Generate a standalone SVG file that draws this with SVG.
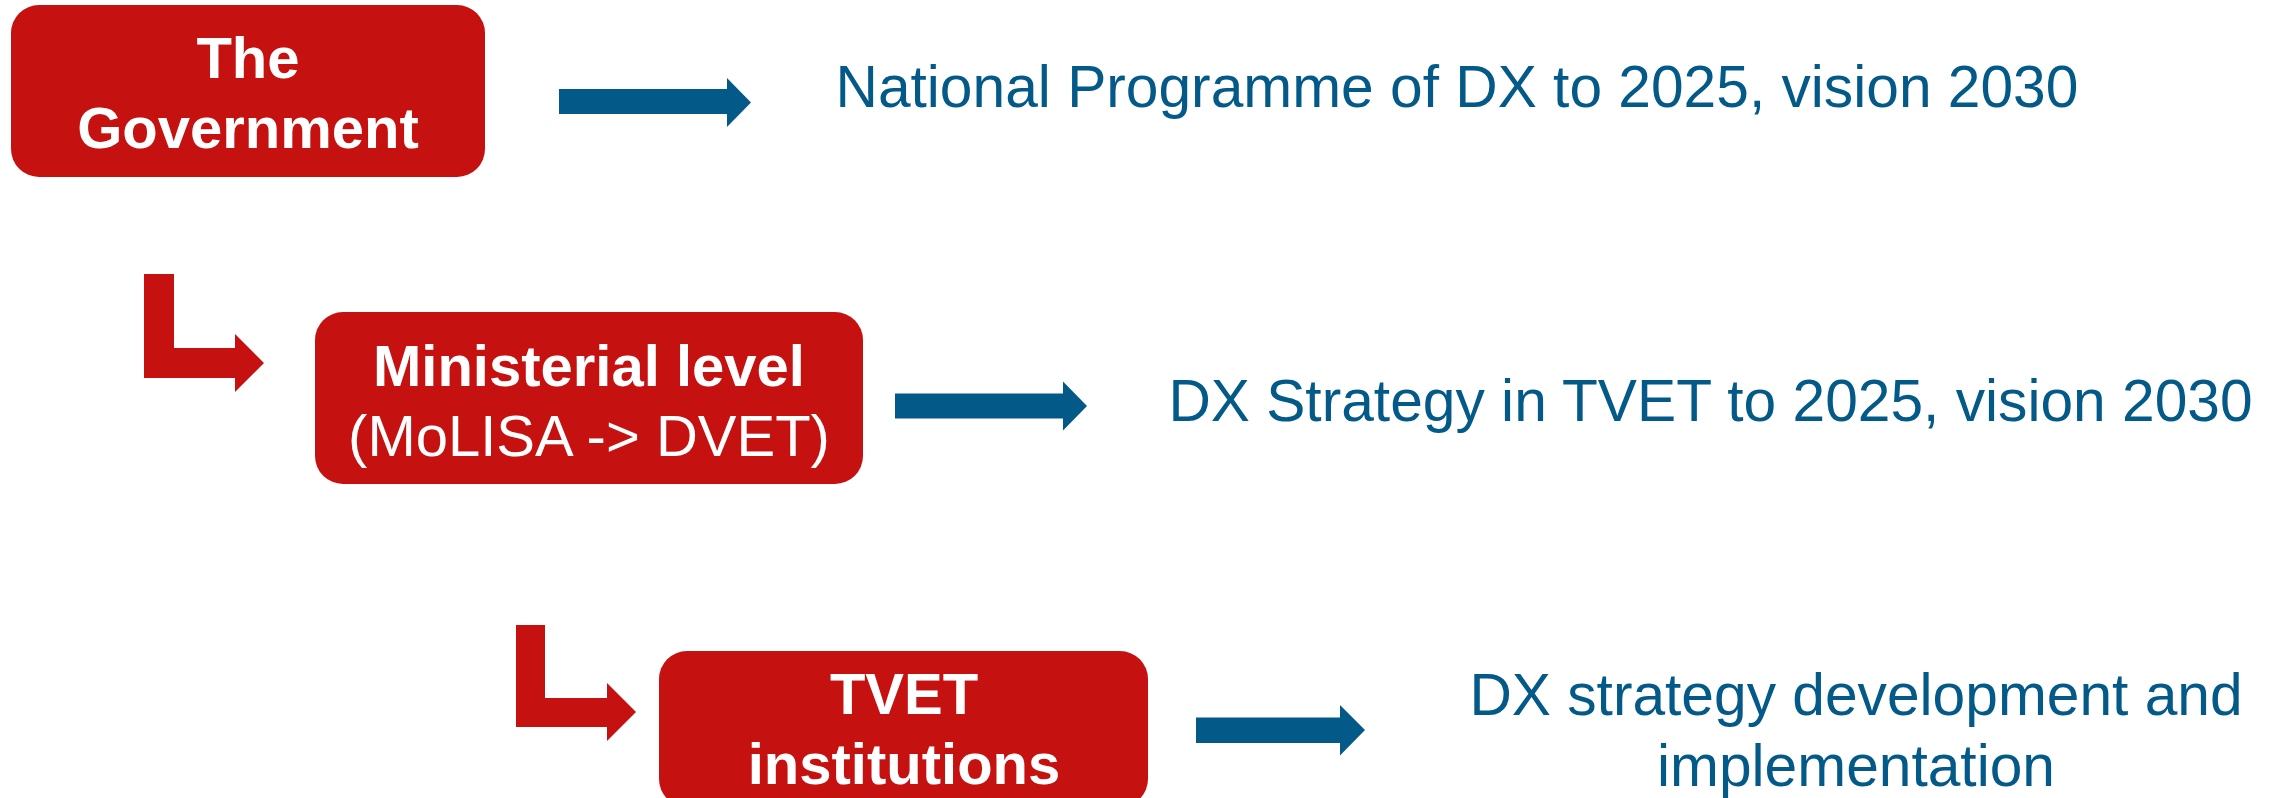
<svg xmlns="http://www.w3.org/2000/svg" width="2280" height="798" viewBox="0 0 2280 798">
<style>
.box{fill:#C61111}
.bt{font-family:"Liberation Sans",Arial,sans-serif;font-size:58px;fill:#FFFFFF;text-anchor:middle}
.b{font-weight:bold}
.lbl{font-family:"Liberation Sans",Arial,sans-serif;font-size:58.7px;fill:#035A88}
.red{fill:#C61111}
.blue{fill:#035A88}
</style>
<rect width="2280" height="798" fill="#FFFFFF"/>
<g id="connectors">
<polygon class="red" points="144,274 174,274 174,348 235,348 235,334 264,363 235,392 235,378 144,378"/>
<polygon class="red" points="516,625 545,625 545,698 607,698 607,683 636,712 607,741 607,727 516,727"/>
<polygon class="blue" points="559,89 727,89 727,78 751,102.5 727,127 727,114 559,114"/>
<polygon class="blue" points="895,393.5 1063,393.5 1063,381.5 1087,406 1063,430.5 1063,418.5 895,418.5"/>
<polygon class="blue" points="1196,717.5 1340,717.5 1340,705 1365,730 1340,755.5 1340,743 1196,743"/>
</g>
<g id="government">
<rect class="box" x="11" y="5" width="474" height="172" rx="28" ry="28"/>
<text class="bt b" x="248" y="78">The</text>
<text class="bt b" x="248" y="148">Government</text>
</g>
<g id="ministerial">
<rect class="box" x="315" y="312" width="548" height="172" rx="28" ry="28"/>
<text class="bt b" x="589" y="386">Ministerial level</text>
<text class="bt" x="589" y="456">(MoLISA -&gt; DVET)</text>
</g>
<g id="tvet">
<rect class="box" x="659" y="651" width="489" height="156" rx="28" ry="28"/>
<text class="bt b" x="904" y="714">TVET</text>
<text class="bt b" x="904" y="784">institutions</text>
</g>
<g id="label-national">
<text class="lbl" x="835.5" y="106.5">National Programme of DX to 2025, vision 2030</text>
</g>
<g id="label-strategy">
<text class="lbl" x="1168.4" y="420.5">DX Strategy in TVET to 2025, vision 2030</text>
</g>
<g id="label-development">
<text class="lbl" x="1856" y="715" text-anchor="middle">DX strategy development and</text>
<text class="lbl" x="1856" y="786" text-anchor="middle">implementation</text>
</g>
</svg>
